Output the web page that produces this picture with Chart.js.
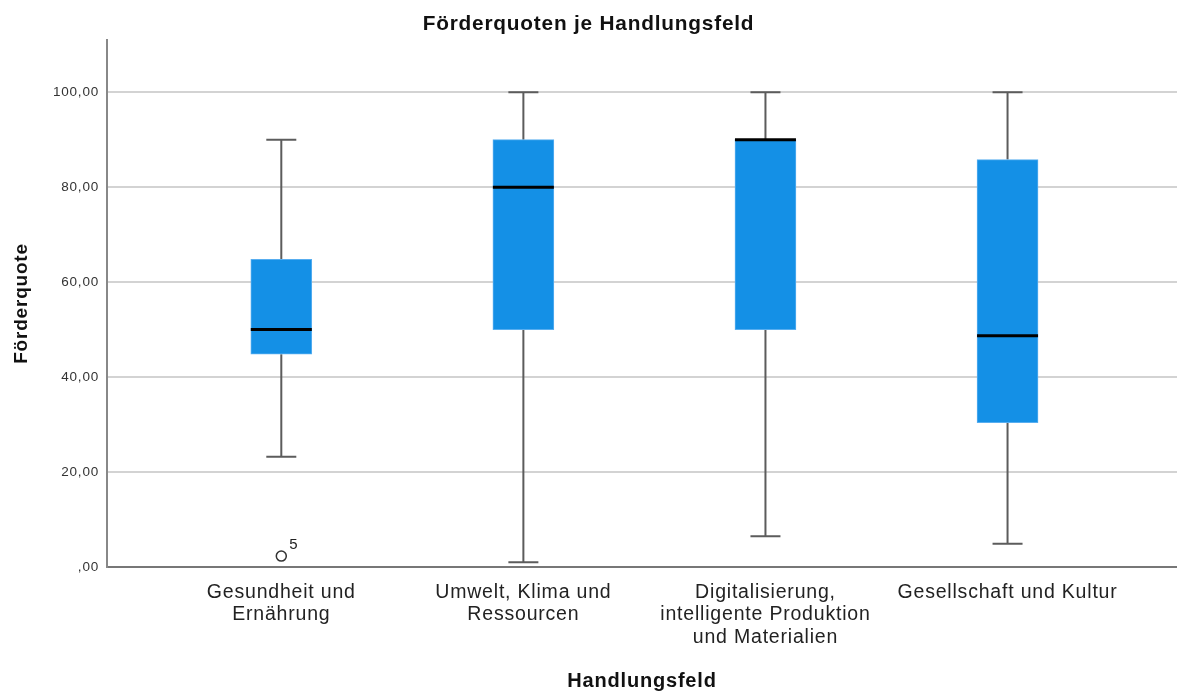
<!DOCTYPE html>
<html>
<head>
<meta charset="utf-8">
<script src="https://cdn.jsdelivr.net/npm/chart.js@4"></script>
<style>
  html, body { margin: 0; padding: 0; background: #fff; overflow: hidden; }
  #chart { display: block; }
</style>
</head>
<body>
<canvas id="chart" width="1177" height="691"></canvas>
<script>
// categories (x labels, multi-line)
const categories = [
  ["Gesundheit und", "Ernährung"],
  ["Umwelt, Klima und", "Ressourcen"],
  ["Digitalisierung,", "intelligente Produktion", "und Materialien"],
  ["Gesellschaft und Kultur"]
];
// box plot values per category
const whiskerLow  = [23.2, 1.0, 6.5, 4.9];
const q1          = [44.8, 50.0, 50.0, 30.4];
const median      = [50.0, 80.0, 90.0, 48.7];
const q3          = [64.8, 90.0, 90.0, 85.8];
const whiskerHigh = [90.0, 100.0, 100.0, 100.0];
// outliers
const outlierCat   = [0];
const outlierValue = [2.3];
const outlierLabel = ["5"];

const fontFamily = "'Liberation Sans', Arial, sans-serif";
Chart.defaults.font.family = fontFamily;

const spacing = {
  id: "spacing",
  beforeUpdate(chart) { chart.ctx.letterSpacing = "0.8px"; },
  beforeDraw(chart) { chart.ctx.letterSpacing = "0.8px"; }
};

const boxParts = {
  id: "boxParts",
  beforeDatasetsDraw(chart) {
    const { ctx, scales: { x, y } } = chart;
    ctx.save();
    ctx.strokeStyle = "#5c5c5c";
    ctx.lineWidth = 2;
    categories.forEach((c, i) => {
      const px = x.getPixelForValue(i);
      ctx.beginPath();
      ctx.moveTo(px, y.getPixelForValue(whiskerLow[i]));
      ctx.lineTo(px, y.getPixelForValue(q1[i]));
      ctx.moveTo(px, y.getPixelForValue(q3[i]));
      ctx.lineTo(px, y.getPixelForValue(whiskerHigh[i]));
      [whiskerLow[i], whiskerHigh[i]].forEach(v => {
        const py = y.getPixelForValue(v);
        ctx.moveTo(px - 15, py);
        ctx.lineTo(px + 15, py);
      });
      ctx.stroke();
    });
    ctx.restore();
  },
  afterDatasetsDraw(chart) {
    const { ctx, scales: { x, y } } = chart;
    ctx.save();
    ctx.strokeStyle = "#000";
    ctx.lineWidth = 3;
    categories.forEach((c, i) => {
      const px = x.getPixelForValue(i);
      const py = y.getPixelForValue(median[i]);
      ctx.beginPath();
      ctx.moveTo(px - 30.5, py);
      ctx.lineTo(px + 30.5, py);
      ctx.stroke();
    });
    ctx.fillStyle = "#222";
    ctx.font = "15px " + fontFamily;
    ctx.textBaseline = "middle";
    outlierCat.forEach((c, k) => {
      ctx.fillText(outlierLabel[k], x.getPixelForValue(c) + 8, y.getPixelForValue(outlierValue[k]) - 11);
    });
    ctx.restore();
  }
};

new Chart(document.getElementById("chart"), {
  data: {
    datasets: [
      {
        type: "bar",
        data: categories.map((c, i) => ({ x: i, y: [q1[i], q3[i]] })),
        backgroundColor: "#1490e6",
        borderColor: "#58aef0",
        borderWidth: 1,
        borderSkipped: false,
        barThickness: 61,
        order: 2
      },
      {
        type: "scatter",
        data: outlierCat.map((c, k) => ({ x: c, y: outlierValue[k] })),
        pointRadius: 5,
        pointBackgroundColor: "#fff",
        pointBorderColor: "#333",
        pointBorderWidth: 1.5,
        order: 1
      }
    ]
  },
  options: {
    responsive: false,
    animation: false,
    layout: { padding: 0, autoPadding: false },
    plugins: {
      legend: { display: false },
      tooltip: { enabled: false },
      title: {
        display: true,
        text: "Förderquoten je Handlungsfeld",
        color: "#111",
        font: { size: 20.8, weight: "bold" },
        padding: { top: 12, bottom: 3 }
      }
    },
    scales: {
      x: {
        type: "linear",
        offset: false,
        min: -0.72,
        max: 3.70,
        afterBuildTicks: s => { s.ticks = categories.map((c, i) => ({ value: i })); },
        afterFit: s => { s.height = 124; s.paddingLeft = 0; s.paddingRight = 0; },
        ticks: {
          callback: v => categories[v],
          autoSkip: false,
          maxRotation: 0,
          color: "#222",
          font: { size: 19.5, lineHeight: 1.16 },
          padding: 14
        },
        grid: { display: false, drawTicks: false },
        border: { display: true, color: "#777", width: 2 },
        title: {
          display: true,
          text: "Handlungsfeld",
          color: "#111",
          font: { size: 20, weight: "bold" },
          padding: { top: 0, bottom: -2 }
        }
      },
      y: {
        min: 0,
        max: 111,
        afterFit: s => { s.width = 107; },
        ticks: {
          stepSize: 20,
          includeBounds: false,
          callback: v => v === 0 ? ",00" : v.toFixed(2).replace(".", ","),
          color: "#333",
          font: { size: 13.5 },
          padding: 8
        },
        grid: { color: "#d3d3d3", lineWidth: 2, drawTicks: false },
        border: { color: "#888", width: 2 },
        title: {
          display: true,
          text: "Förderquote",
          color: "#111",
          font: { size: 19, weight: "bold" },
          padding: { top: 10, bottom: 0 }
        }
      }
    }
  },
  plugins: [spacing, boxParts]
});
</script>
</body>
</html>
